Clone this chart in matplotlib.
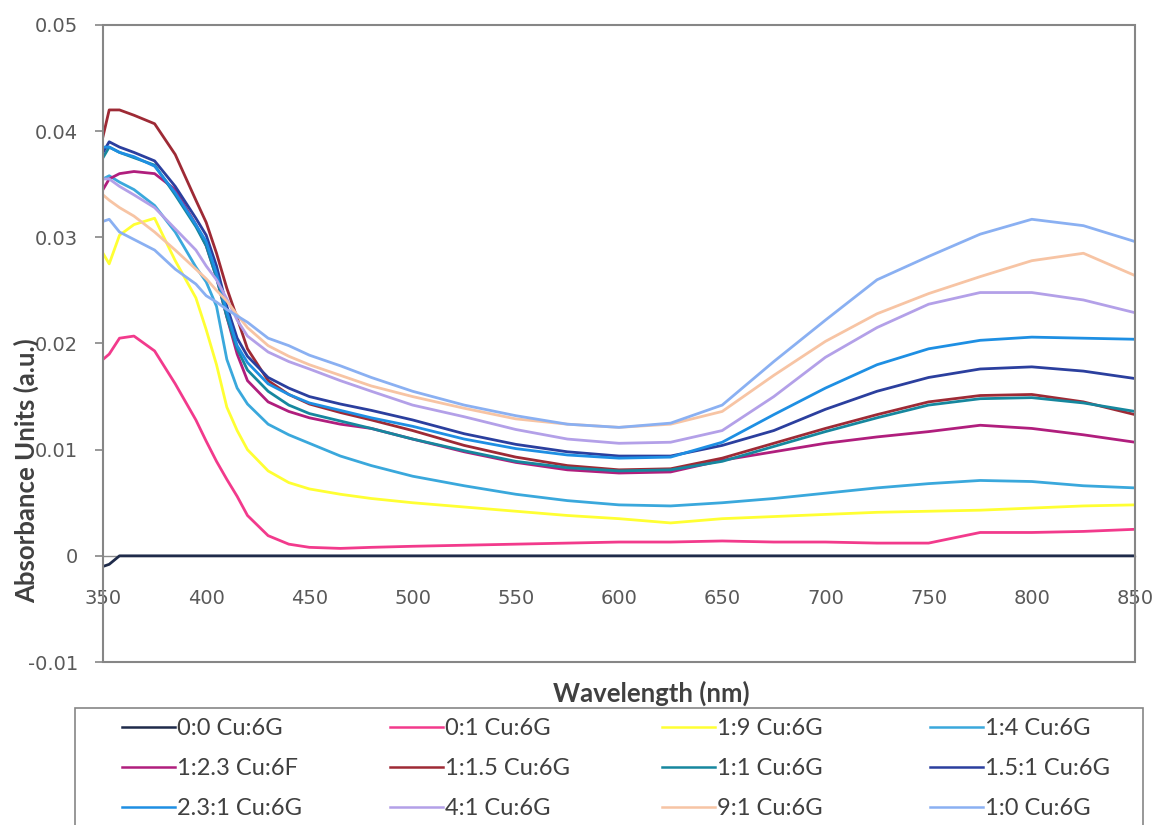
import matplotlib
matplotlib.use("Agg")
import matplotlib.pyplot as plt
from matplotlib.patches import Rectangle

# wavelength grid (nm) the spectra are sampled on
wavelength = [350, 353, 358, 365, 375, 385, 395, 400, 405, 410, 415, 420, 430, 440, 450, 465,
              480, 500, 525, 550, 575, 600, 625, 650, 675, 700, 725, 750, 775, 800, 825, 850]

abs_0_0 = [-0.0010, -0.0008, 0.0000, 0.0000, 0.0000, 0.0000, 0.0000, 0.0000, 0.0000, 0.0000,
           0.0000, 0.0000, 0.0000, 0.0000, 0.0000, 0.0000, 0.0000, 0.0000, 0.0000, 0.0000,
           0.0000, 0.0000, 0.0000, 0.0000, 0.0000, 0.0000, 0.0000, 0.0000, 0.0000, 0.0000,
           0.0000, 0.0000]
abs_0_1 = [0.0185, 0.0190, 0.0205, 0.0207, 0.0193, 0.0162, 0.0128, 0.0108, 0.0089, 0.0072,
           0.0056, 0.0038, 0.0019, 0.0011, 0.0008, 0.0007, 0.0008, 0.0009, 0.0010, 0.0011,
           0.0012, 0.0013, 0.0013, 0.0014, 0.0013, 0.0013, 0.0012, 0.0012, 0.0022, 0.0022,
           0.0023, 0.0025]
abs_1_9 = [0.0285, 0.0275, 0.0302, 0.0312, 0.0318, 0.0278, 0.0243, 0.0213, 0.0180, 0.0140,
           0.0118, 0.0100, 0.0080, 0.0069, 0.0063, 0.0058, 0.0054, 0.0050, 0.0046, 0.0042,
           0.0038, 0.0035, 0.0031, 0.0035, 0.0037, 0.0039, 0.0041, 0.0042, 0.0043, 0.0045,
           0.0047, 0.0048]
abs_1_4 = [0.0355, 0.0358, 0.0352, 0.0345, 0.0330, 0.0305, 0.0272, 0.0258, 0.0235, 0.0185,
           0.0158, 0.0143, 0.0124, 0.0114, 0.0106, 0.0094, 0.0085, 0.0075, 0.0066, 0.0058,
           0.0052, 0.0048, 0.0047, 0.0050, 0.0054, 0.0059, 0.0064, 0.0068, 0.0071, 0.0070,
           0.0066, 0.0064]
abs_1_2p3 = [0.0345, 0.0355, 0.0360, 0.0362, 0.0360, 0.0345, 0.0312, 0.0292, 0.0262, 0.0225,
             0.0190, 0.0165, 0.0145, 0.0136, 0.0130, 0.0124, 0.0120, 0.0110, 0.0098, 0.0088,
             0.0081, 0.0078, 0.0079, 0.0090, 0.0098, 0.0106, 0.0112, 0.0117, 0.0123, 0.0120,
             0.0114, 0.0107]
abs_1_1p5 = [0.0395, 0.0420, 0.0420, 0.0415, 0.0407, 0.0378, 0.0335, 0.0314, 0.0285, 0.0252,
             0.0224, 0.0195, 0.0165, 0.0152, 0.0143, 0.0135, 0.0128, 0.0118, 0.0104, 0.0093,
             0.0085, 0.0081, 0.0082, 0.0092, 0.0106, 0.0120, 0.0133, 0.0145, 0.0151, 0.0152,
             0.0145, 0.0133]
abs_1_1 = [0.0375, 0.0385, 0.0380, 0.0375, 0.0368, 0.0340, 0.0310, 0.0292, 0.0262, 0.0225,
           0.0195, 0.0175, 0.0155, 0.0142, 0.0134, 0.0127, 0.0120, 0.0110, 0.0099, 0.0089,
           0.0083, 0.0080, 0.0081, 0.0089, 0.0103, 0.0117, 0.0130, 0.0142, 0.0148, 0.0149,
           0.0144, 0.0136]
abs_1p5_1 = [0.0380, 0.0390, 0.0385, 0.0380, 0.0372, 0.0348, 0.0318, 0.0302, 0.0273, 0.0235,
             0.0205, 0.0188, 0.0168, 0.0158, 0.0150, 0.0143, 0.0137, 0.0128, 0.0115, 0.0105,
             0.0098, 0.0094, 0.0094, 0.0104, 0.0118, 0.0138, 0.0155, 0.0168, 0.0176, 0.0178,
             0.0174, 0.0167]
abs_2p3_1 = [0.0385, 0.0385, 0.0380, 0.0376, 0.0367, 0.0342, 0.0312, 0.0296, 0.0266, 0.0230,
             0.0198, 0.0182, 0.0162, 0.0152, 0.0144, 0.0137, 0.0130, 0.0122, 0.0110, 0.0101,
             0.0095, 0.0092, 0.0093, 0.0107, 0.0133, 0.0158, 0.0180, 0.0195, 0.0203, 0.0206,
             0.0205, 0.0204]
abs_4_1 = [0.0355, 0.0355, 0.0348, 0.0340, 0.0328, 0.0308, 0.0288, 0.0273, 0.0260, 0.0242,
           0.0222, 0.0207, 0.0192, 0.0183, 0.0176, 0.0165, 0.0155, 0.0142, 0.0131, 0.0119,
           0.0110, 0.0106, 0.0107, 0.0118, 0.0150, 0.0187, 0.0215, 0.0237, 0.0248, 0.0248,
           0.0241, 0.0229]
abs_9_1 = [0.0340, 0.0335, 0.0328, 0.0320, 0.0305, 0.0288, 0.0270, 0.0261, 0.0250, 0.0240,
           0.0227, 0.0215, 0.0198, 0.0188, 0.0180, 0.0170, 0.0160, 0.0150, 0.0139, 0.0129,
           0.0124, 0.0121, 0.0124, 0.0136, 0.0170, 0.0202, 0.0228, 0.0247, 0.0263, 0.0278,
           0.0285, 0.0264]
abs_1_0 = [0.0315, 0.0317, 0.0305, 0.0298, 0.0288, 0.0270, 0.0256, 0.0245, 0.0239, 0.0232,
           0.0226, 0.0220, 0.0205, 0.0198, 0.0189, 0.0179, 0.0168, 0.0155, 0.0142, 0.0132,
           0.0124, 0.0121, 0.0125, 0.0142, 0.0183, 0.0222, 0.0260, 0.0282, 0.0303, 0.0317,
           0.0311, 0.0296]

labels = ["0:0 Cu:6G", "0:1 Cu:6G", "1:9 Cu:6G", "1:4 Cu:6G",
          "1:2.3 Cu:6F", "1:1.5 Cu:6G", "1:1 Cu:6G", "1.5:1 Cu:6G",
          "2.3:1 Cu:6G", "4:1 Cu:6G", "9:1 Cu:6G", "1:0 Cu:6G"]
series = [abs_0_0, abs_0_1, abs_1_9, abs_1_4, abs_1_2p3, abs_1_1p5,
          abs_1_1, abs_1p5_1, abs_2p3_1, abs_4_1, abs_9_1, abs_1_0]
colors = ["#1f2b4a", "#f23a8c", "#ffff33", "#3aa8dc", "#b01e7d", "#9e2a35",
          "#16879e", "#2b3f9e", "#1e8fe3", "#b3a0e8", "#f7c4a4", "#8ab0f2"]

TEXT_FONT = ["Lato", "DejaVu Sans"]
W, H = 1157, 825

fig = plt.figure(figsize=(W / 100, H / 100), dpi=100)
ax = fig.add_axes([103 / W, 1 - 662 / H, (1135 - 103) / W, (662 - 25) / H])

handles = []
for y, c, lab in zip(series, colors, labels):
    line, = ax.plot(wavelength, y, color=c, lw=2.0, label=lab)
    handles.append(line)

ax.set_xlim(350, 850)
ax.set_ylim(-0.01, 0.05)
ax.set_xticks(range(350, 851, 50))
ax.set_yticks([-0.01, 0, 0.01, 0.02, 0.03, 0.04, 0.05])
ax.set_yticklabels(["-0.01", "0", "0.01", "0.02", "0.03", "0.04", "0.05"])

# horizontal axis crosses at zero, plot area keeps its own border
for side in ["top", "right", "left"]:
    ax.spines[side].set_visible(False)
ax.spines["bottom"].set_position(("data", 0))
ax.spines["bottom"].set_color("#8c8c8c")
ax.spines["bottom"].set_linewidth(1.0)
ax.spines["bottom"].set_zorder(0.5)
ax.add_patch(Rectangle((0, 0), 1, 1, transform=ax.transAxes, fill=False,
                       edgecolor="#868686", lw=1.5, zorder=5, clip_on=False))

ax.tick_params(axis="y", direction="out", length=6, width=1.2, color="#868686",
               labelsize=14, labelcolor="#595959", pad=12)
ax.tick_params(axis="x", direction="out", length=0, labelsize=14,
               labelcolor="#595959", pad=24)

fig.text(651 / W, 1 - 693 / H, "Wavelength (nm)", ha="center", va="center",
         fontsize=18.5, fontweight="bold", color="#404040", family=TEXT_FONT)
fig.text(26 / W, 1 - 471 / H, "Absorbance Units (a.u.)", ha="center", va="center",
         rotation=90, fontsize=18.5, fontweight="bold", color="#404040", family=TEXT_FONT)

# legend box runs off the bottom edge of the figure
fig.add_artist(Rectangle((75 / W, -0.05), (1143 - 75) / W, 0.05 + 1 - 708 / H,
                         transform=fig.transFigure, fill=False,
                         edgecolor="#868686", lw=1.2))

# legend reads row by row with equal column widths: one legend per column
nrow, ncol = 3, 4
col_left = [122, 390, 662, 930]
for c in range(ncol):
    idx = [r * ncol + c for r in range(nrow)]
    leg = fig.legend([handles[i] for i in idx], [labels[i] for i in idx],
                     loc="upper left",
                     bbox_to_anchor=(col_left[c] / W, 1 - 718 / H),
                     bbox_transform=fig.transFigure,
                     prop={"family": TEXT_FONT, "size": 17}, labelcolor="#404040",
                     handlelength=2.25, handletextpad=0.1, borderpad=0,
                     borderaxespad=0, labelspacing=0.8, frameon=False)
    for h in leg.legend_handles:
        h.set_linewidth(1.8)

fig.savefig("out.png", dpi=100)
